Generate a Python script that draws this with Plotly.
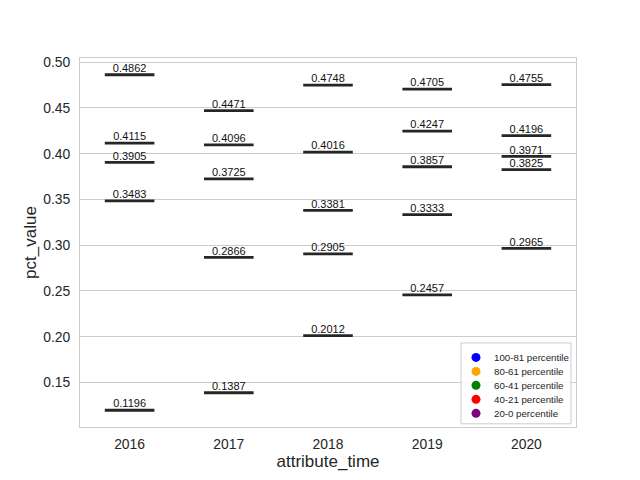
import plotly.graph_objects as go

years = ["2016", "2017", "2018", "2019", "2020"]
bucket_names = ["100-81 percentile", "80-61 percentile", "60-41 percentile",
                "40-21 percentile", "20-0 percentile"]
bucket_colors = ["blue", "orange", "green", "red", "purple"]

p100_81 = [0.4862, 0.4471, 0.4748, 0.4705, 0.4755]
p80_61 = [0.4115, 0.4096, 0.4016, 0.4247, 0.4196]
p60_41 = [0.3905, 0.3725, 0.3381, 0.3857, 0.3971]
p40_21 = [0.3483, 0.2866, 0.2905, 0.3333, 0.3825]
p20_0 = [0.1196, 0.1387, 0.2012, 0.2457, 0.2965]
series = [p100_81, p80_61, p60_41, p40_21, p20_0]

HALF = 0.25
FONT = "Liberation Sans, Arial, sans-serif"
DARK = "#262626"

# page body has an 8px margin; compensate so the plot area lands at
# screen pixels x 80..576, y 57.6..427.2 (matplotlib default subplot)
OFF = 8
L, R, T, B = 80, 576, 57.6, 427.2

fig = go.Figure()

seg_x, seg_y, lab_x, lab_y, lab_t = [], [], [], [], []
for vals in series:
    for i, v in enumerate(vals):
        seg_x += [i - HALF, i + HALF, None]
        seg_y += [v, v, None]
        lab_x.append(i)
        lab_y.append(v)
        lab_t.append(f"{v:.4f}")

fig.add_trace(go.Scatter(x=seg_x, y=seg_y, mode="lines",
                         line=dict(color="#262626", width=2.8),
                         showlegend=False, hoverinfo="skip"))
fig.add_trace(go.Scatter(x=lab_x, y=lab_y, mode="text", text=lab_t,
                         textposition="top center",
                         textfont=dict(family=FONT, size=11, color="#111"),
                         showlegend=False, hoverinfo="skip"))

# hand-built legend on a screen-pixel overlay axis
bx0, bx1, by0, by1 = 461, 571, 343, 424
row0, row_step = 357.5, 14.0
mk_x, txt_x = 476, 492
leg_y = [row0 + k * row_step for k in range(len(bucket_names))]
fig.add_trace(go.Scatter(x=[bx0, bx1, bx1, bx0, bx0], y=[by0, by0, by1, by1, by0],
                         mode="lines", fill="toself",
                         fillcolor="rgba(255,255,255,0.85)",
                         line=dict(color="#cccccc", width=1),
                         xaxis="x2", yaxis="y2", showlegend=False, hoverinfo="skip"))
fig.add_trace(go.Scatter(x=[mk_x] * len(leg_y), y=leg_y, mode="markers",
                         marker=dict(color=bucket_colors, size=9),
                         xaxis="x2", yaxis="y2", showlegend=False, hoverinfo="skip"))
for name, yy in zip(bucket_names, leg_y):
    fig.add_annotation(x=txt_x, y=yy, xref="x2", yref="y2", text=name,
                       showarrow=False, xanchor="left", yanchor="middle",
                       font=dict(family=FONT, size=9.7, color=DARK))

fig.update_layout(
    width=640 - OFF, height=480 - OFF,
    margin=dict(l=L - OFF, r=640 - R, t=T - OFF, b=480 - B),
    plot_bgcolor="white", paper_bgcolor="white",
    font=dict(family=FONT, size=13.9, color=DARK),
    showlegend=False,
    xaxis2=dict(overlaying="x", range=[L, R], visible=False, fixedrange=True),
    yaxis2=dict(overlaying="y", range=[B, T], visible=False, fixedrange=True),
    xaxis=dict(range=[-0.5, 4.5], tickmode="array",
               tickvals=list(range(len(years))), ticktext=years,
               showgrid=False, zeroline=False, automargin=False,
               showline=True, mirror=True, linecolor="#cccccc", linewidth=1,
               ticks="outside", ticklen=4, tickcolor="rgba(0,0,0,0)",
               title=dict(text="attribute_time", standoff=4)),
    yaxis=dict(range=[0.10127, 0.50453], tickmode="array",
               tickvals=[0.15, 0.20, 0.25, 0.30, 0.35, 0.40, 0.45, 0.50],
               ticktext=["0.15", "0.20", "0.25", "0.30", "0.35", "0.40", "0.45", "0.50"],
               showgrid=True, gridcolor="#cccccc", gridwidth=1, zeroline=False,
               automargin=False,
               showline=True, mirror=True, linecolor="#cccccc", linewidth=1,
               ticks="outside", ticklen=6, tickcolor="rgba(0,0,0,0)",
               title=dict(text="pct_value", standoff=2)),
)

fig.write_html("out.html")
